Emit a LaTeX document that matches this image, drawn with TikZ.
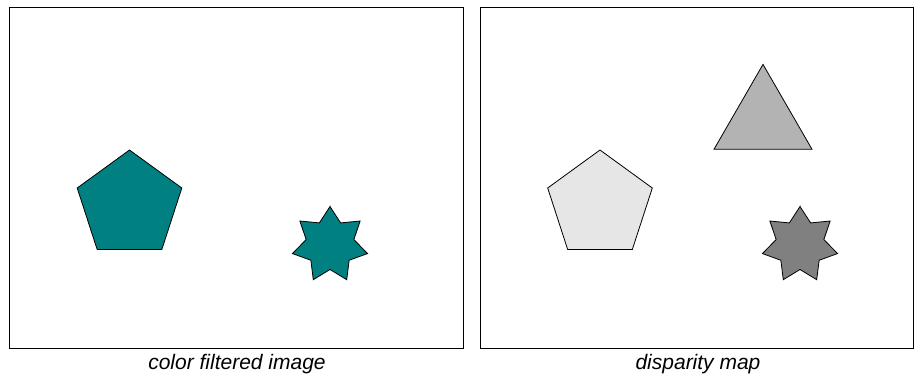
\documentclass[tikz,border=0pt]{standalone}
\usepackage{fontspec}
\setmainfont{Liberation Sans}
\usetikzlibrary{calc}
\begin{document}
\begin{tikzpicture}[x=1pt,y=1pt,
  panel/.style={draw=black,line width=1pt},
  shapeline/.style={draw=black,line width=0.8pt,line join=miter},
  caption/.style={anchor=base,font=\fontsize{21}{25}\selectfont\itshape,inner sep=0pt}]
\definecolor{tealc}{HTML}{008080}
\definecolor{lgray}{HTML}{E6E6E6}
\definecolor{mgray}{HTML}{B3B3B3}
\definecolor{dgray}{HTML}{808080}
\useasboundingbox (0,0) rectangle (922,384);
% panels
\draw[panel] (9,36) rectangle (463,376);
\draw[panel] (480,36) rectangle (913,376);
% left pentagon
\draw[shapeline,fill=tealc] (129.5,179) ++(90:55) \foreach \k in {1,...,4}{ -- ($(129.5,179)+(90+72*\k:55)$)} -- cycle;
% left star
\draw[shapeline,fill=tealc] (330,139) ++(90:38.5)
  \foreach \k in {0,...,6}{ -- ($(330,139)+(90+51.4286*\k+25.7143:24.5)$) -- ($(330,139)+(90+51.4286*\k+51.4286:38.5)$)} -- cycle;
% right pentagon
\draw[shapeline,fill=lgray] (600,179) ++(90:55) \foreach \k in {1,...,4}{ -- ($(600,179)+(90+72*\k:55)$)} -- cycle;
% triangle
\draw[shapeline,fill=mgray] ($(763,263)+(90:56.6)$) -- ($(763,263)+(210:56.6)$) -- ($(763,263)+(330:56.6)$) -- cycle;
% right star
\draw[shapeline,fill=dgray] (800,139) ++(90:38.5)
  \foreach \k in {0,...,6}{ -- ($(800,139)+(90+51.4286*\k+25.7143:24.5)$) -- ($(800,139)+(90+51.4286*\k+51.4286:38.5)$)} -- cycle;
% captions
\node[caption] (c1) at (237,15) {color filtered image};
\node[caption] (c2) at (698,15) {disparity map};
\end{tikzpicture}
\end{document}
